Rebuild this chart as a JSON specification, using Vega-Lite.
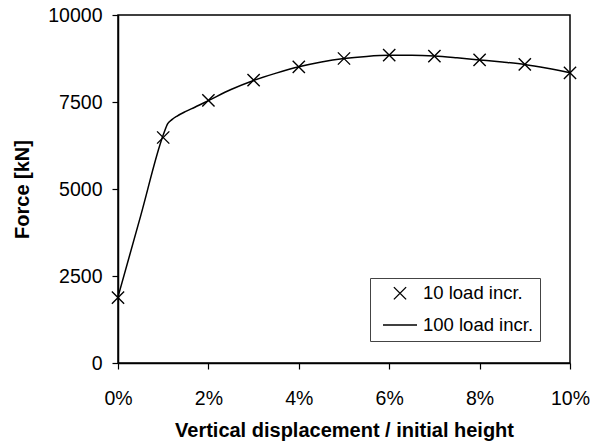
{
  "$schema": "https://vega.github.io/schema/vega-lite/v6.json",
  "width": 452,
  "height": 348,
  "autosize": "none",
  "padding": {"left": 118, "top": 15, "right": 20, "bottom": 79},
  "background": "white",
  "datasets": {
    "markers": [
      {"x": 0.00, "y": 1880, "series": "10 load incr."},
      {"x": 0.01, "y": 6480, "series": "10 load incr."},
      {"x": 0.02, "y": 7550, "series": "10 load incr."},
      {"x": 0.03, "y": 8130, "series": "10 load incr."},
      {"x": 0.04, "y": 8510, "series": "10 load incr."},
      {"x": 0.05, "y": 8750, "series": "10 load incr."},
      {"x": 0.06, "y": 8850, "series": "10 load incr."},
      {"x": 0.07, "y": 8820, "series": "10 load incr."},
      {"x": 0.08, "y": 8710, "series": "10 load incr."},
      {"x": 0.09, "y": 8580, "series": "10 load incr."},
      {"x": 0.10, "y": 8340, "series": "10 load incr."}
    ],
    "curve": [
      {"x": 0.000, "y": 1900},
      {"x": 0.005, "y": 4220},
      {"x": 0.010, "y": 6550},
      {"x": 0.011, "y": 6880},
      {"x": 0.012, "y": 7000},
      {"x": 0.013, "y": 7090},
      {"x": 0.015, "y": 7230},
      {"x": 0.017, "y": 7350},
      {"x": 0.020, "y": 7540},
      {"x": 0.025, "y": 7860},
      {"x": 0.030, "y": 8120},
      {"x": 0.035, "y": 8330},
      {"x": 0.040, "y": 8510},
      {"x": 0.045, "y": 8650},
      {"x": 0.050, "y": 8750},
      {"x": 0.055, "y": 8810},
      {"x": 0.060, "y": 8840},
      {"x": 0.065, "y": 8840},
      {"x": 0.070, "y": 8820},
      {"x": 0.075, "y": 8770},
      {"x": 0.080, "y": 8710},
      {"x": 0.085, "y": 8650},
      {"x": 0.090, "y": 8580},
      {"x": 0.095, "y": 8470},
      {"x": 0.100, "y": 8340}
    ]
  },
  "config": {
    "font": "Liberation Sans",
    "view": {"stroke": "black", "strokeWidth": 1.5},
    "axis": {
      "domainColor": "black",
      "domainWidth": 1.5,
      "tickColor": "black",
      "tickWidth": 1.2,
      "tickSize": 6,
      "grid": false,
      "labelFont": "Liberation Sans",
      "labelFontSize": 19.5,
      "labelColor": "black",
      "titleFont": "Liberation Sans",
      "titleFontSize": 20,
      "titleFontWeight": "bold",
      "titleColor": "black"
    }
  },
  "layer": [
    {
      "data": {"name": "curve"},
      "mark": {"type": "line", "color": "black", "strokeWidth": 1.5, "interpolate": "monotone", "clip": false},
      "encoding": {
        "x": {"field": "x", "type": "quantitative"},
        "y": {"field": "y", "type": "quantitative"}
      }
    },
    {
      "data": {"name": "markers"},
      "mark": {"type": "point", "filled": false, "stroke": "black", "strokeWidth": 1.4, "opacity": 1, "clip": false},
      "encoding": {
        "x": {
          "field": "x",
          "type": "quantitative",
          "scale": {"domain": [0, 0.1], "nice": false},
          "axis": {
            "title": "Vertical displacement / initial height",
            "values": [0, 0.02, 0.04, 0.06, 0.08, 0.1],
            "format": ".0%",
            "labelPadding": 20,
            "titlePadding": 13,
            "labelFlush": false
          }
        },
        "y": {
          "field": "y",
          "type": "quantitative",
          "scale": {"domain": [0, 10000], "nice": false},
          "axis": {
            "title": "Force [kN]",
            "values": [0, 2500, 5000, 7500, 10000],
            "format": "d",
            "labelPadding": 10,
            "titlePadding": 15,
            "labelFlush": false
          }
        },
        "shape": {
          "field": "series",
          "type": "nominal",
          "scale": {
            "domain": ["10 load incr.", "100 load incr."],
            "range": ["M-1,-1L1,1M-1,1L1,-1", "stroke"]
          },
          "legend": {
            "title": null,
            "orient": "none",
            "legendX": 252,
            "legendY": 263,
            "strokeColor": "#444",
            "fillColor": "white",
            "padding": 6,
            "symbolOffset": 6,
            "labelFontSize": 18.5,
            "labelFont": "Liberation Sans",
            "labelColor": "black",
            "labelOffset": 5,
            "rowPadding": 4,
            "symbolStrokeColor": "black",
            "symbolStrokeWidth": 1.4,
            "symbolFillColor": "transparent"
          }
        },
        "size": {
          "field": "series",
          "type": "nominal",
          "scale": {"domain": ["10 load incr.", "100 load incr."], "range": [150, 1156]},
          "legend": {
            "title": null,
            "orient": "none",
            "legendX": 252,
            "legendY": 263
          }
        }
      }
    }
  ]
}
